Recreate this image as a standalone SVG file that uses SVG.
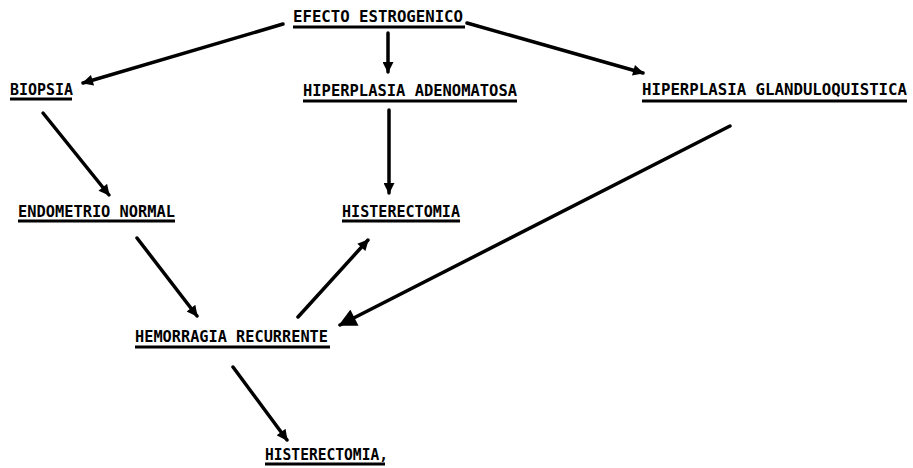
<svg xmlns="http://www.w3.org/2000/svg" width="913" height="468" viewBox="0 0 913 468">
<style>
.t{font-family:"DejaVu Sans Mono","Liberation Mono",monospace;font-size:15px;font-weight:bold;fill:#000}
.u{stroke:#000;stroke-width:3;fill:none}
.c{stroke:#000;stroke-width:3.5;fill:none;stroke-linecap:round;marker-end:url(#ah)}
.cl{stroke:#000;stroke-width:3.5;fill:none;stroke-linecap:round;marker-end:url(#ahl)}
</style>
<defs>
<marker id="ah" viewBox="0 0 10 10" refX="9" refY="5" markerWidth="12" markerHeight="11" markerUnits="userSpaceOnUse" orient="auto"><path d="M0,0 L10,5 L0,10 z" fill="#000"/></marker>
<marker id="ahl" viewBox="0 0 10 10" refX="9" refY="5" markerWidth="20" markerHeight="18" markerUnits="userSpaceOnUse" orient="auto"><path d="M0,0 L10,5 L0,10 z" fill="#000"/></marker>
</defs>
<rect width="913" height="468" fill="#fff"/>
<g id="n1"><text class="t" x="293" y="22" textLength="170" lengthAdjust="spacingAndGlyphs">EFECTO ESTROGENICO</text><line class="u" x1="293" y1="27" x2="465" y2="27"/></g>
<g id="n2"><text class="t" x="10" y="95" textLength="63" lengthAdjust="spacingAndGlyphs">BIOPSIA</text><line class="u" x1="10" y1="99" x2="72" y2="99"/></g>
<g id="n3"><text class="t" x="303" y="96" textLength="214" lengthAdjust="spacingAndGlyphs">HIPERPLASIA ADENOMATOSA</text><line class="u" x1="303" y1="101" x2="517" y2="101"/></g>
<g id="n4"><text class="t" x="642" y="95" textLength="265" lengthAdjust="spacingAndGlyphs">HIPERPLASIA GLANDULOQUISTICA</text><line class="u" x1="642" y1="101" x2="907" y2="101"/></g>
<g id="n5"><text class="t" x="18" y="217" textLength="157" lengthAdjust="spacingAndGlyphs">ENDOMETRIO NORMAL</text><line class="u" x1="18" y1="221" x2="175" y2="221"/></g>
<g id="n6"><text class="t" x="342" y="217" textLength="118" lengthAdjust="spacingAndGlyphs">HISTERECTOMIA</text><line class="u" x1="342" y1="221" x2="460" y2="221"/></g>
<g id="n7"><text class="t" x="135" y="342" textLength="193" lengthAdjust="spacingAndGlyphs">HEMORRAGIA RECURRENTE</text><line class="u" x1="135" y1="347" x2="330" y2="347"/></g>
<g id="n8"><text class="t" x="265" y="460" textLength="123" lengthAdjust="spacingAndGlyphs">HISTERECTOMIA,</text><line class="u" x1="265" y1="464" x2="385" y2="464"/></g>
<g id="connectors">
<path class="c" d="M283,24 L83,83"/>
<path class="c" d="M388,33 L388,72"/>
<path class="c" d="M467,23 L643,73"/>
<path class="c" d="M389,110 L389,193"/>
<path class="c" d="M43,113 L109,195"/>
<path class="c" d="M137,238 L197,316"/>
<path class="c" d="M298,317 L368,240"/>
<path class="cl" d="M730,126 L340,325"/>
<path class="c" d="M233,367 L287,440"/>
</g>
</svg>
